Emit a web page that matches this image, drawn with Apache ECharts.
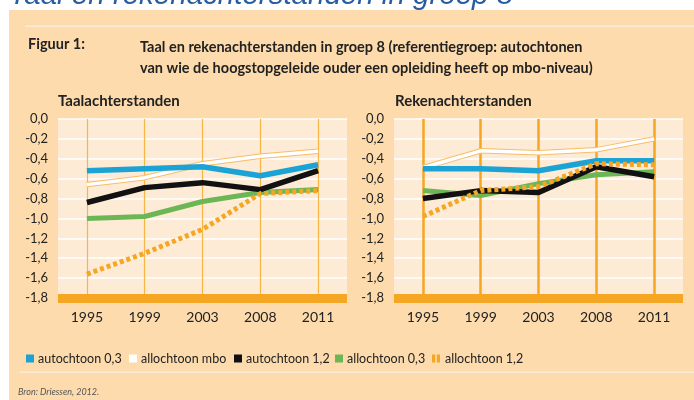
<!DOCTYPE html>
<html><head><meta charset="utf-8">
<script src="https://cdn.jsdelivr.net/npm/echarts@6/dist/echarts.min.js"></script>
<style>html,body{margin:0;padding:0;background:#fff;}#c{width:694px;height:400px;}</style>
</head><body><div id="c"></div>
<script>
const years = ['1995','1999','2003','2008','2011'];
const seriesNames = ['autochtoon 0,3','allochtoon mbo','autochtoon 1,2','allochtoon 0,3','allochtoon 1,2'];
// Taalachterstanden
const taalAuto03 = [-0.52,-0.50,-0.48,-0.57,-0.46];
const taalAlloMbo = [-0.66,-0.59,-0.45,-0.375,-0.325];
const taalAuto12 = [-0.84,-0.69,-0.64,-0.71,-0.52];
const taalAllo03 = [-1.00,-0.98,-0.83,-0.74,-0.71];
const taalAllo12 = [-1.56,-1.35,-1.11,-0.75,-0.72];
// Rekenachterstanden
const rekAuto03 = [-0.50,-0.50,-0.52,-0.42,-0.42];
const rekAlloMbo = [-0.49,-0.32,-0.34,-0.31,-0.20];
const rekAuto12 = [-0.80,-0.72,-0.74,-0.48,-0.58];
const rekAllo03 = [-0.72,-0.77,-0.65,-0.56,-0.53];
const rekAllo12 = [-0.98,-0.72,-0.68,-0.45,-0.46];
const yTicks = {min:-1.8, max:0, interval:0.2};

const ORANGE='#F5A623', PEACH='#FDDBAD', PLOT='#FEEBD6';
const FONT='Lato, "Open Sans", sans-serif';
const colors = {'autochtoon 0,3':'#1BA3D6','allochtoon mbo':'#FFFFFF','autochtoon 1,2':'#111111','allochtoon 0,3':'#6CB656','allochtoon 1,2':ORANGE};

function grid(left){return {left:left, top:119, width:289, height:179, show:true, backgroundColor:PLOT, borderWidth:0, z:2};}
function xAx(i){return {type:'category', gridIndex:i, data:years, boundaryGap:true, z:3,
  axisLine:{onZero:false, lineStyle:{color:ORANGE,width:9,cap:'butt'}}, axisTick:{show:false},
  axisLabel:{color:'#222', fontSize:14, margin:12, fontFamily:FONT}, splitLine:{show:false}};}
function yAx(i){return {type:'value', gridIndex:i, min:yTicks.min, max:yTicks.max, interval:yTicks.interval, z:3,
  axisLine:{show:false}, axisTick:{show:false},
  axisLabel:{color:'#222', fontSize:13, margin:10, fontFamily:FONT, formatter:v=>{let r=Math.round(v*10)/10; if(Math.abs(r)<1e-9) r=0; return r.toFixed(1).replace('.',',');}},
  splitLine:{lineStyle:{color:'#FFFFFF',width:1.5}}};}

function chartSeries(i, d, vWidth){
  const base = {type:'line', xAxisIndex:i, yAxisIndex:i, showSymbol:false, symbol:'none', silent:true, animation:false};
  return [
    Object.assign({}, base, {name:'_v'+i, data:[], z:4, markLine:{silent:true, symbol:'none', label:{show:false},
      lineStyle:{color:ORANGE, width:vWidth, type:'solid', opacity:vWidth>1.5?1:0.8},
      data:years.map(y=>({xAxis:y}))}}),
    Object.assign({}, base, {name:'_o'+i, data:d[1], z:5, lineStyle:{color:'#F7BD6A', width:5.5}}),
    Object.assign({}, base, {name:'allochtoon mbo', data:d[1], z:6, itemStyle:{color:colors['allochtoon mbo']}, lineStyle:{color:'#FFFFFF', width:3.5}}),
    Object.assign({}, base, {name:'autochtoon 0,3', data:d[0], z:7, itemStyle:{color:colors['autochtoon 0,3']}, lineStyle:{color:colors['autochtoon 0,3'], width:5.5}}),
    Object.assign({}, base, {name:'allochtoon 0,3', data:d[3], z:8, itemStyle:{color:colors['allochtoon 0,3']}, lineStyle:{color:colors['allochtoon 0,3'], width:5}}),
    Object.assign({}, base, {name:'autochtoon 1,2', data:d[2], z:9, itemStyle:{color:colors['autochtoon 1,2']}, lineStyle:{color:colors['autochtoon 1,2'], width:5.5}}),
    Object.assign({}, base, {name:'allochtoon 1,2', data:d[4], z:10, itemStyle:{color:colors['allochtoon 1,2']}, lineStyle:{color:ORANGE, width:5, type:[4,3], cap:'butt'}})
  ];
}

const legendX = [21, 124, 229, 330, 427];
const legends = seriesNames.map((n,i)=>({
  data:[{name:n, icon: i===4 ? 'path://M0,0H4V10H0ZM6,0H10V10H6Z' : 'rect'}],
  left:legendX[i], top:347, itemWidth: i===4?10:8, itemHeight:8, selectedMode:false, z:5,
  itemStyle:{borderWidth:0},
  textStyle:{color:'#222', fontSize:12.5, fontFamily:FONT, padding:[0,0,0,-1]}
}));

const option = {
  animation:false,
  graphic:[
    {type:'text', z:0, style:{x:9, y:-4, verticalAlign:'middle', text:'Taal en rekenachterstanden in groep 8', fill:'#2A5D9F', font:'italic 29.5px "Liberation Sans", Arial, sans-serif'}},
    {type:'rect', shape:{x:9,y:10,width:685,height:390}, z:1, style:{fill:PEACH}},
    {type:'rect', shape:{x:25,y:25.5,width:669,height:1.5}, z:1, style:{fill:'#FEEBD6'}},
    {type:'rect', shape:{x:20,y:371.5,width:674,height:1.5}, z:1, style:{fill:'#FEEBD6'}},
    {type:'text', left:28, top:37, z:5, style:{text:'Figuur 1:', fill:'#222', font:'bold 14.5px '+FONT}},
    {type:'text', left:140, top:37, z:5, style:{text:'Taal en rekenachterstanden in groep 8 (referentiegroep: autochtonen\nvan wie de hoogstopgeleide ouder een opleiding heeft op mbo-niveau)', fill:'#222', font:'bold 14.5px '+FONT, lineHeight:21}},
    {type:'text', left:58, top:94, z:5, style:{text:'Taalachterstanden', fill:'#222', font:'bold 15px '+FONT}},
    {type:'text', left:395, top:94, z:5, style:{text:'Rekenachterstanden', fill:'#222', font:'bold 15px '+FONT}},
    {type:'text', left:18, top:388, z:5, style:{text:'Bron: Driessen, 2012.', fill:'#555', font:'italic 9px '+FONT}}
  ],
  legend: legends,
  grid:[grid(58), grid(394)],
  xAxis:[xAx(0), xAx(1)],
  yAxis:[yAx(0), yAx(1)],
  series: chartSeries(0,[taalAuto03,taalAlloMbo,taalAuto12,taalAllo03,taalAllo12],1.2)
    .concat(chartSeries(1,[rekAuto03,rekAlloMbo,rekAuto12,rekAllo03,rekAllo12],2.5))
};
const chart = echarts.init(document.getElementById('c'), null, {renderer:'canvas'});
chart.setOption(option);
</script></body></html>
